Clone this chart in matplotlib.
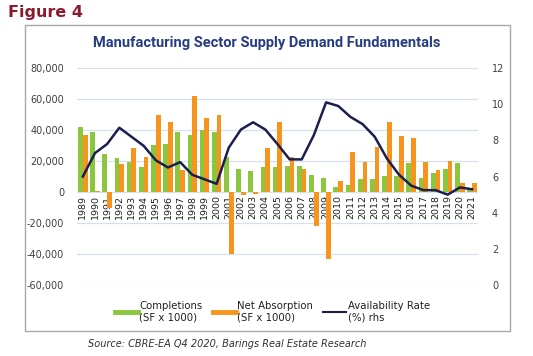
import numpy as np
import matplotlib.pyplot as plt
from matplotlib.patches import Rectangle
from matplotlib.lines import Line2D

# Datos
years = [str(y) for y in range(1989, 2022)]
completions = [42000, 38500, 24300, 22200, 19400, 16100, 30300, 31200, 38500, 37000,
               40000, 38500, 22800, 14600, 13300, 16300, 16300, 17000, 17000, 11000,
               8800, 3400, 4300, 8200, 8200, 10300, 10300, 18500, 8800, 12500,
               14800, 18500, 1200]
absorption = [37000, 900, -10000, 17800, 28200, 22800, 49700, 45200, 14000, 61700,
              48000, 49700, -40000, -2000, -1500, 28200, 45400, 22800, 14800, -22000,
              -43000, 7300, 26000, 19400, 28800, 45400, 36100, 34800, 19400, 14200,
              20000, 6000, 6000]
availability = [6.0, 7.3, 7.8, 8.7, 8.2, 7.7, 6.9, 6.5, 6.8, 6.1,
                5.85, 5.6, 7.6, 8.6, 9.0, 8.6, 7.8, 6.95, 6.95, 8.3,
                10.1, 9.9, 9.3, 8.9, 8.2, 7.0, 6.1, 5.5, 5.25, 5.25,
                5.0, 5.4, 5.3]

verde = '#8cc63f'
naranja = '#f7941d'
azul = '#1b1f4e'
gris = '#404040'

fig = plt.figure(figsize=(5.33, 3.56), dpi=100)
ax = fig.add_axes([0.144, 0.199, 0.753, 0.610])
ax2 = ax.twinx()

x = np.arange(len(years))
w = 0.39
ax.bar(x - w / 2, completions, w, color=verde, zorder=3)
ax.bar(x + w / 2, absorption, w, color=naranja, zorder=3)
ax2.plot(x, availability, color=azul, lw=1.8, zorder=4)

ax.set_ylim(-60000, 80000)
ax.set_yticks(range(-60000, 80001, 20000))
ax.set_yticklabels([f'{v:,}' for v in range(-60000, 80001, 20000)])
ax2.set_ylim(0, 12)
ax2.set_yticks(range(0, 13, 2))
ax.set_xlim(-0.5, len(years) - 0.5)

ax.grid(axis='y', color='#d6e0ee', lw=0.9, zorder=0)
ax.set_axisbelow(True)
ax.set_xticks(x)
ax.set_xticklabels(years)
ax.spines['bottom'].set_position(('data', 0))
for a in (ax, ax2):
    for s in a.spines.values():
        s.set_visible(False)
ax.tick_params(axis='x', length=0, pad=2, labelrotation=90, labelsize=6.8,
               labelcolor='#202020')
ax.tick_params(axis='y', length=0, pad=9, labelsize=7, labelcolor=gris)
ax2.tick_params(axis='y', length=0, pad=10, labelsize=7, labelcolor=gris)
ax.set_zorder(ax2.get_zorder() - 1)
ax.patch.set_visible(False)

# Leyenda
handles = [Line2D([], [], color=verde, lw=3.5),
           Line2D([], [], color=naranja, lw=3.5),
           Line2D([], [], color=azul, lw=1.5)]
labels = ['Completions\n(SF x 1000)', 'Net Absorption\n(SF x 1000)', 'Availability Rate\n(%) rhs']
fig.legend(handles, labels, loc='center', bbox_to_anchor=(0.511, 0.125), ncol=3,
           frameon=False, fontsize=7.3, handlelength=2.3, handletextpad=0.1,
           columnspacing=1.0, labelcolor='#202020')

# Marco y textos
fig.patches.append(Rectangle((25 / 533, 1 - 331 / 356), 485 / 533, 306 / 356,
                             transform=fig.transFigure, fill=False,
                             edgecolor='#a8a8a8', lw=1.0))
fig.text(8 / 533, 1 - 13 / 356, 'Figure 4', color='#8b1a2e', fontsize=11.5,
         fontweight='bold', va='center', ha='left')
fig.text(0.5, 1 - 43 / 356, 'Manufacturing Sector Supply Demand Fundamentals',
         color='#263c82', fontsize=10.5, fontweight='bold', family='Roboto',
         va='center', ha='center')
fig.text(88 / 533, 1 - 344 / 356, 'Source: CBRE-EA Q4 2020, Barings Real Estate Research',
         color='#303030', fontsize=7, style='italic', va='center', ha='left')

fig.savefig('out.png', dpi=100)
